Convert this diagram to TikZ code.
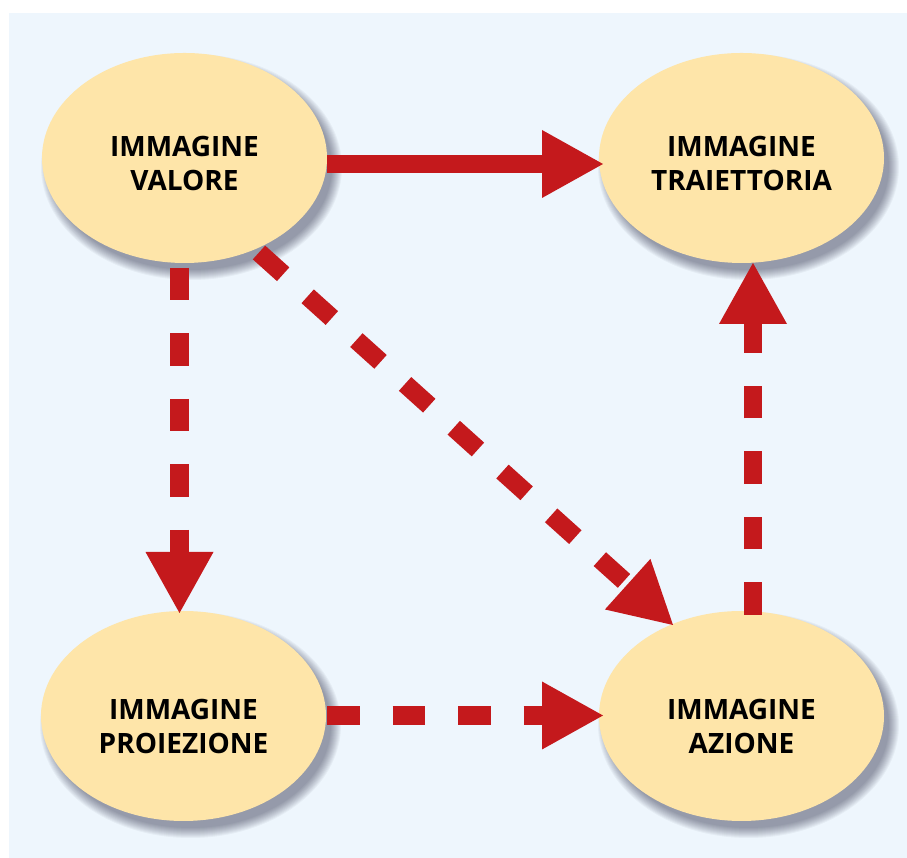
\documentclass[tikz,border=0pt]{standalone}
\usepackage{fontspec}
\setmainfont{Open Sans}
\usetikzlibrary{arrows.meta,shapes.geometric}
\definecolor{bgblue}{HTML}{EEF6FD}
\definecolor{ellfill}{HTML}{FEE5A9}
\definecolor{arrred}{HTML}{C4191C}
\tikzset{
  ell/.style={ellipse, fill=ellfill, minimum width=285pt, minimum height=210pt, inner sep=0pt, outer sep=0pt},
  lbl/.style={align=center, font=\fontsize{28}{34}\selectfont\bfseries, inner sep=0pt},
  bigarrow/.style={draw=arrred, line width=18.5pt,
    -{Triangle[length=61pt,width=68pt,line width=0pt]}},
  dasharrow/.style={bigarrow, dash pattern=on 32.5pt off 33pt},
}
\begin{document}
\begin{tikzpicture}[x=1pt,y=1pt]
\useasboundingbox (0,0) rectangle (907,858);
\fill[bgblue] (9,0) rectangle (907,845);
% centres
\coordinate (cval) at (184.5,700);
\coordinate (ctra) at (741.5,700);
\coordinate (cpro) at (183.5,142);
\coordinate (cazi) at (741.5,142);
% soft shadows
\foreach \c in {cval,ctra,cpro,cazi}{
  \foreach \k in {1,...,11}{
    \fill[black!70!blue!40!black,opacity=0.04] ([shift={(7,-9)}]\c) ellipse [x radius=142.5+\k-3, y radius=105+\k-3];
  }
}
% nodes
\node[ell] (val) at (cval) {};
\node[ell] (tra) at (ctra) {};
\node[ell] (pro) at (cpro) {};
\node[ell] (azi) at (cazi) {};
\node[lbl] (valt) at ([yshift=-6pt]val.center) {IMMAGINE\\VALORE};
\node[lbl] (trat) at ([yshift=-6pt]tra.center) {IMMAGINE\\TRAIETTORIA};
\node[lbl] (prot) at ([yshift=-11pt]pro.center) {IMMAGINE\\PROIEZIONE};
\node[lbl] (azit) at ([yshift=-11pt]azi.center) {IMMAGINE\\AZIONE};
% connectors
\draw[bigarrow] ([yshift=-6pt]val.east) -- ([xshift=4pt,yshift=-6pt]tra.west);
\draw[dasharrow] ([xshift=-5pt,yshift=-5pt]val.south) -- ([xshift=-4pt,yshift=-2pt]pro.north);
\draw[dasharrow] ([shift={(74.5,-94.5)}]val.center) -- ([shift={(-68.5,91)}]azi.center);
\draw[dasharrow] ([shift={(11.5,101)}]azi.center) -- ([shift={(11.5,-105)}]tra.center);
\draw[dasharrow] ([xshift=1pt,yshift=0.5pt]pro.east) -- ([xshift=4pt,yshift=0.5pt]azi.west);
\end{tikzpicture}
\end{document}
